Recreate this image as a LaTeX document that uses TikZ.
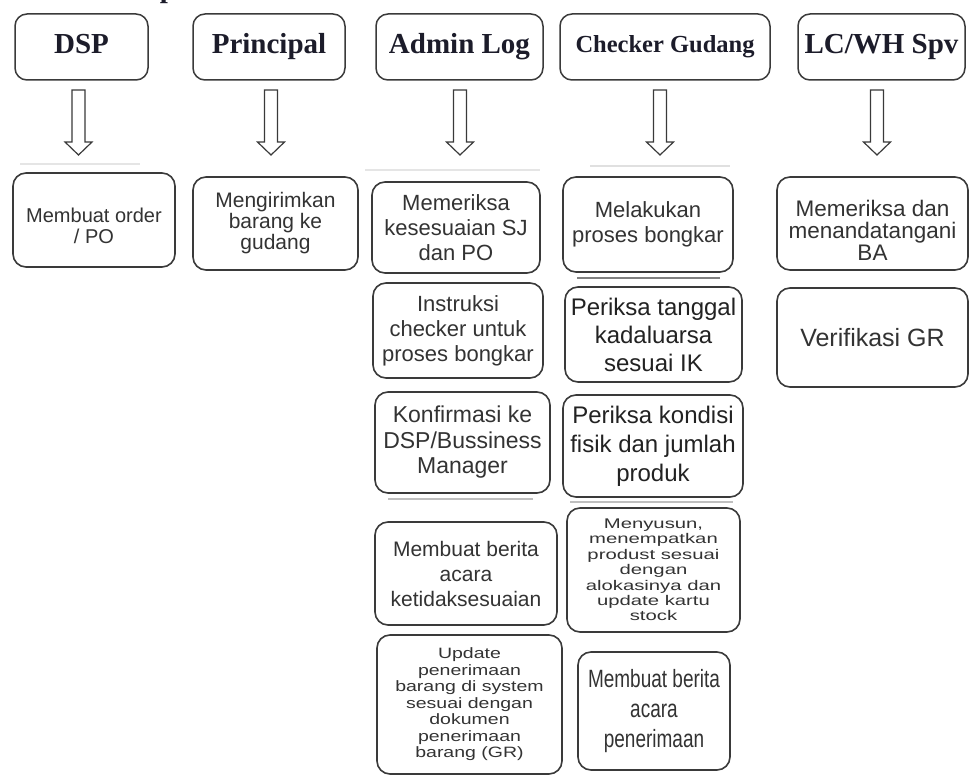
\documentclass[tikz,border=0pt]{standalone}
\usepackage{fontspec}
\setmainfont{Liberation Serif}
\newfontfamily\bodysans{Liberation Sans}
\newfontfamily\widesans[FakeStretch=1.3]{Liberation Sans}
\newfontfamily\widersans[FakeStretch=1.45]{Liberation Sans}
\newfontfamily\narrowsans[FakeStretch=0.76]{Liberation Sans}
\usetikzlibrary{calc}
\definecolor{boxline}{HTML}{3A3A3A}
\definecolor{txt}{HTML}{333333}
\definecolor{txtdark}{HTML}{222222}
\definecolor{hdtxt}{HTML}{1C1C2A}
\tikzset{
  hdr/.style={draw=boxline, line width=1.5pt, rounded corners=12pt, align=center,
    text=hdtxt, inner sep=0pt, text height=20pt, text depth=6pt,
    font=\bfseries\fontsize{29}{32}\selectfont},
  sub/.style={draw=boxline, line width=1.6pt, rounded corners=13pt, align=center,
    text=txt, inner sep=0pt},
  blockarrow/.style={draw=boxline, line width=1.2pt, fill=white, line join=miter},
  shadowline/.style={line width=2.5pt, draw=gray},
  faintline/.style={line width=2pt, draw=black!25}
}
\newcommand{\placebox}[7]{\node[#1, minimum width={#5pt-#3pt}, minimum height={#6pt-#4pt}] (#2) at ({(#3+#5)/2},{(#4+#6)/2}) {#7};}
\newcommand{\hollowarrow}[1]{\draw[blockarrow] (#1-6.5,90) -- (#1+6.5,90) -- (#1+6.5,142) -- (#1+13.5,142) -- (#1,155) -- (#1-13.5,142) -- (#1-6.5,142) -- cycle;}
\begin{document}
\begin{tikzpicture}[x=1pt,y=-1pt]
\useasboundingbox (0,0) rectangle (970,776);
\fill[white] (0,0) rectangle (970,776);

% partial text at the top edge
\node[anchor=base, font=\bfseries\fontsize{29}{32}\selectfont, text=hdtxt, inner sep=0pt] (frag) at (168,-2) {p};

% headers
\placebox{hdr}{dsp}{15}{14}{148}{80}{DSP}
\placebox{hdr}{prin}{193}{14}{345}{80}{Principal}
\placebox{hdr}{admin}{376}{14}{543}{80}{Admin Log}
\placebox{hdr, font=\bfseries\fontsize{24.5}{28}\selectfont, text height=17pt, text depth=5pt}{chk}{560}{14}{770}{80}{Checker Gudang}
\placebox{hdr}{lcwh}{798}{14}{965}{80}{LC/WH Spv}

% hollow arrows
\hollowarrow{78.5}
\hollowarrow{271}
\hollowarrow{460}
\hollowarrow{660}
\hollowarrow{877}

% DSP
\placebox{sub, font=\bodysans\fontsize{20}{21.5}\selectfont}{c1}{13}{173}{175}{267}{\rule{0pt}{26pt}Membuat order\\/ PO}
% Principal
\placebox{sub, font=\bodysans\fontsize{21}{21}\selectfont}{c2}{193}{177}{358}{270}{Mengirimkan\\barang ke\\gudang}

% Admin Log
\placebox{sub, font=\bodysans\fontsize{22}{25}\selectfont}{a1}{372}{182}{540}{273}{Memeriksa\\kesesuaian SJ\\dan PO}
\placebox{sub, font=\bodysans\fontsize{22}{25}\selectfont}{a2}{373}{283}{543}{378}{Instruksi\\checker untuk\\proses bongkar}
\placebox{sub, font=\bodysans\fontsize{23}{25.5}\selectfont}{a3}{375}{392}{550}{493}{Konfirmasi ke\\DSP/Bussiness\\Manager}
\placebox{sub, font=\bodysans\fontsize{21}{25}\selectfont}{a4}{375}{522}{557}{625}{Membuat berita\\acara\\ketidaksesuaian}
\placebox{sub, font=\widesans\fontsize{15}{16.5}\selectfont}{a5}{377}{635}{562}{774}{Update\\penerimaan\\barang di system\\sesuai dengan\\dokumen\\penerimaan\\barang (GR)}

% Checker Gudang
\placebox{sub, font=\bodysans\fontsize{22}{25}\selectfont}{k1}{563}{177}{733}{272}{Melakukan\\proses bongkar}
\placebox{sub, text=txtdark, font=\bodysans\fontsize{24}{28}\selectfont}{k2}{565}{287}{742}{382}{Periksa tanggal\\kadaluarsa\\sesuai IK}
\placebox{sub, text=txtdark, font=\bodysans\fontsize{24}{29}\selectfont}{k3}{563}{395}{743}{497}{Periksa kondisi\\fisik dan jumlah\\produk}
\placebox{sub, font=\widersans\fontsize{14}{15.4}\selectfont}{k4}{567}{508}{740}{632}{Menyusun,\\menempatkan\\produst sesuai\\dengan\\alokasinya dan\\update kartu\\stock}
\placebox{sub, font=\narrowsans\fontsize{25}{30}\selectfont}{k5}{578}{652}{730}{770}{Membuat berita\\acara\\penerimaan}

% LC/WH Spv
\placebox{sub, font=\bodysans\fontsize{22.5}{22}\selectfont}{l1}{777}{177}{968}{270}{\rule{0pt}{30pt}Memeriksa dan\\menandatangani\\BA}
\placebox{sub, font=\bodysans\fontsize{25}{28}\selectfont}{l2}{777}{288}{968}{387}{Verifikasi GR}

% shadow lines
\draw[shadowline] (577,278) -- (720,278);
\draw[faintline] (388,499) -- (533,499);
\draw[faintline] (570,502) -- (733,502);
\draw[line width=1.5pt, draw=black!10] (20,164) -- (140,164);
\draw[line width=1.5pt, draw=black!10] (365,170) -- (540,170);
\draw[line width=1.5pt, draw=black!12] (590,166) -- (730,166);
\end{tikzpicture}
\end{document}
